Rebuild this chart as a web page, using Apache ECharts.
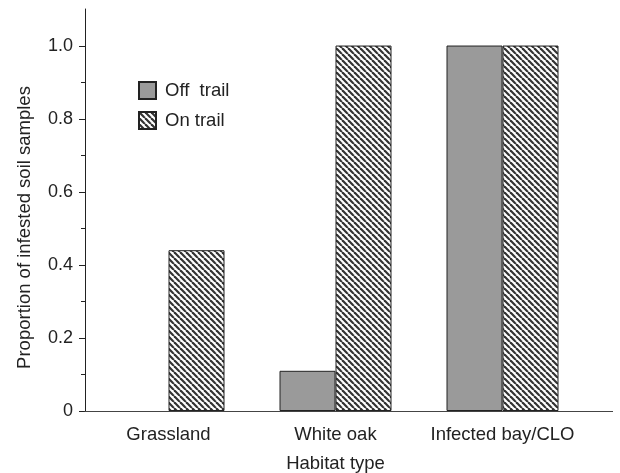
<!DOCTYPE html>
<html>
<head>
<meta charset="utf-8">
<script src="https://cdn.jsdelivr.net/npm/echarts@6/dist/echarts.min.js"></script>
<style>
  html, body { margin: 0; padding: 0; background: #fff; }
  #chart { width: 620px; height: 473px; }
</style>
</head>
<body>
<div id="chart"></div>
<script>
// data
var habitats = ['Grassland', 'White oak', 'Infected bay/CLO'];
var offTrail = ['-', 0.11, 1.0];
var onTrail = [0.44, 1.0, 1.0];
var majorTicks = [0, 0.2, 0.4, 0.6, 0.8, 1.0];
var minorTicks = [0.1, 0.3, 0.5, 0.7, 0.9];

var FONT = '"Liberation Sans", Arial, sans-serif';

// diagonal hatch for the "On trail" bars
function makeHatch() {
    var s = 6;
    var c = document.createElement('canvas');
    c.width = s; c.height = s;
    var ctx = c.getContext('2d');
    ctx.fillStyle = '#fff';
    ctx.fillRect(0, 0, s, s);
    ctx.strokeStyle = '#333';
    ctx.lineWidth = 2.2;
    for (var k = -1; k <= 1; k++) {
        ctx.beginPath();
        ctx.moveTo(k * s, 0);
        ctx.lineTo(k * s + s, s);
        ctx.stroke();
    }
    return c;
}

var chart = echarts.init(document.getElementById('chart'));

var X_LEFT = 85, X_RIGHT = 34, Y_TOP = 9, Y_BOTTOM = 62;

var baseGraphics = [
    {
        type: 'line',
        shape: { x1: 620 - X_RIGHT, y1: 473 - Y_BOTTOM + 0.5, x2: 613, y2: 473 - Y_BOTTOM + 0.5 },
        style: { stroke: '#444', lineWidth: 1 }
    },
    {
        type: 'text',
        x: 24.5, y: 227.5,
        rotation: Math.PI / 2,
        style: {
            text: 'Proportion of infested soil samples',
            font: '18.5px ' + FONT,
            fill: '#222',
            textAlign: 'center',
            textVerticalAlign: 'middle'
        }
    }
];

chart.setOption({
    animation: false,
    textStyle: { fontFamily: FONT },
    grid: { left: X_LEFT, top: Y_TOP, right: X_RIGHT, bottom: Y_BOTTOM, containLabel: false, outerBoundsMode: 'none' },
    legend: {
        left: 138, top: 81, orient: 'vertical', padding: 0,
        icon: 'rect', itemWidth: 17, itemHeight: 17, itemGap: 11,
        textStyle: { fontSize: 18.5, lineHeight: 17, color: '#222', fontFamily: FONT, padding: [0, 0, 0, 4] },
        data: ['Off  trail', 'On trail']
    },
    xAxis: {
        type: 'category',
        data: habitats,
        name: 'Habitat type',
        nameLocation: 'middle',
        nameGap: 43,
        nameTextStyle: { fontSize: 18.5, color: '#222' },
        axisLine: { lineStyle: { color: '#444', width: 1 } },
        axisTick: { alignWithLabel: true, length: 6, lineStyle: { color: '#444' } },
        axisLabel: { fontSize: 18.5, color: '#222', margin: 14, interval: 0 }
    },
    yAxis: {
        type: 'value',
        min: 0, max: 1.1, interval: 0.1,
        splitLine: { show: false },
        axisLine: { show: true, lineStyle: { color: '#222', width: 1 } },
        axisTick: { show: true, length: 4, customValues: minorTicks, lineStyle: { color: '#222' } },
        axisLabel: {
            fontSize: 18, color: '#222', margin: 12,
            customValues: majorTicks,
            formatter: function (v) { return v === 0 ? '0' : v.toFixed(1); }
        }
    },
    series: [
        {
            name: 'Off  trail',
            type: 'bar',
            data: offTrail,
            barWidth: 56,
            barGap: '0%',
            itemStyle: { color: '#9a9a9a', borderColor: '#222', borderWidth: 1 }
        },
        {
            name: 'On trail',
            type: 'bar',
            data: onTrail,
            barWidth: 56,
            barGap: '0%',
            itemStyle: { color: { image: makeHatch(), repeat: 'repeat' }, borderColor: '#222', borderWidth: 1 }
        }
    ],
    graphic: baseGraphics
});

// longer major ticks, placed through the y axis scale
var majorTickMarks = majorTicks.map(function (v) {
    var y = Math.round(chart.convertToPixel({ yAxisIndex: 0 }, v)) + 0.5;
    return {
        type: 'line',
        shape: { x1: X_LEFT - 6, y1: y, x2: X_LEFT + 0.5, y2: y },
        style: { stroke: '#222', lineWidth: 1 }
    };
});
chart.setOption({ graphic: baseGraphics.concat(majorTickMarks) });
</script>
</body>
</html>
